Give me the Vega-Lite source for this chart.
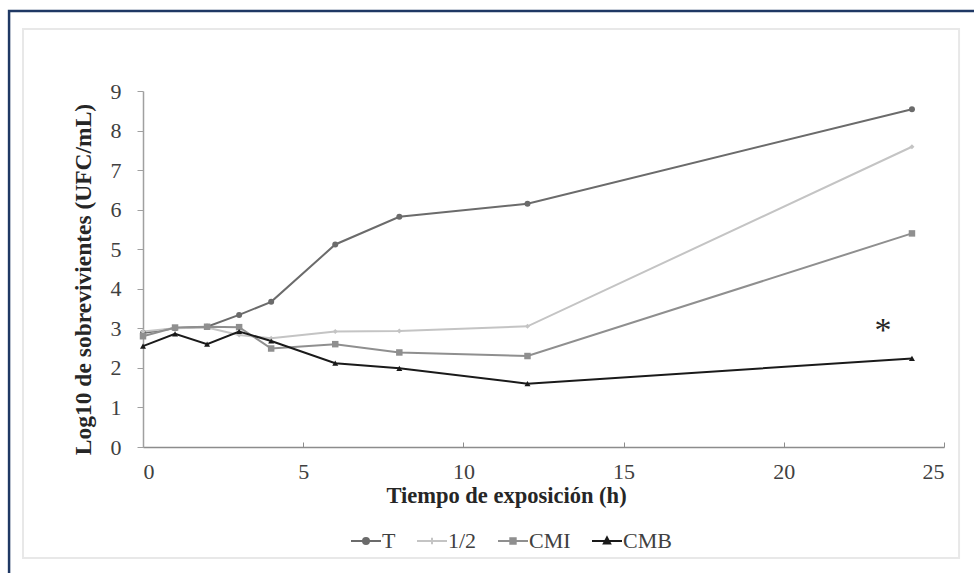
{
  "$schema": "https://vega.github.io/schema/vega-lite/v6.json",
  "width": 801,
  "height": 356,
  "autosize": "none",
  "padding": {"left": 143, "top": 91, "right": 30, "bottom": 126},
  "background": "white",
  "config": {
    "view": {"stroke": null},
    "font": "Liberation Serif",
    "axis": {"labelFont": "Liberation Serif", "titleFont": "Liberation Serif", "grid": false, "labelOverlap": false}
  },
  "datasets": {
    "series": [
      {"t": 0, "serie": "T", "v": 2.88}, {"t": 1, "serie": "T", "v": 3.0}, {"t": 2, "serie": "T", "v": 3.04}, {"t": 3, "serie": "T", "v": 3.34}, {"t": 4, "serie": "T", "v": 3.67}, {"t": 6, "serie": "T", "v": 5.12}, {"t": 8, "serie": "T", "v": 5.82}, {"t": 12, "serie": "T", "v": 6.15}, {"t": 24, "serie": "T", "v": 8.54},
      {"t": 0, "serie": "1/2", "v": 2.92}, {"t": 1, "serie": "1/2", "v": 3.0}, {"t": 2, "serie": "1/2", "v": 3.02}, {"t": 3, "serie": "1/2", "v": 2.83}, {"t": 4, "serie": "1/2", "v": 2.75}, {"t": 6, "serie": "1/2", "v": 2.92}, {"t": 8, "serie": "1/2", "v": 2.93}, {"t": 12, "serie": "1/2", "v": 3.05}, {"t": 24, "serie": "1/2", "v": 7.59},
      {"t": 0, "serie": "CMI", "v": 2.8}, {"t": 1, "serie": "CMI", "v": 3.02}, {"t": 2, "serie": "CMI", "v": 3.04}, {"t": 3, "serie": "CMI", "v": 3.03}, {"t": 4, "serie": "CMI", "v": 2.49}, {"t": 6, "serie": "CMI", "v": 2.6}, {"t": 8, "serie": "CMI", "v": 2.39}, {"t": 12, "serie": "CMI", "v": 2.3}, {"t": 24, "serie": "CMI", "v": 5.4},
      {"t": 0, "serie": "CMB", "v": 2.55}, {"t": 1, "serie": "CMB", "v": 2.86}, {"t": 2, "serie": "CMB", "v": 2.6}, {"t": 3, "serie": "CMB", "v": 2.92}, {"t": 4, "serie": "CMB", "v": 2.68}, {"t": 6, "serie": "CMB", "v": 2.12}, {"t": 8, "serie": "CMB", "v": 1.99}, {"t": 12, "serie": "CMB", "v": 1.6}, {"t": 24, "serie": "CMB", "v": 2.24}
    ],
    "frames": [
      {"t": -4.18, "t2": 27.0, "v": -3.5, "v2": 11.02, "kind": "outer"},
      {"t": -3.745, "t2": 25.47, "v": -2.806, "v2": 10.566, "kind": "inner"}
    ],
    "notes": [{"t": 23.1, "v": 3.08, "label": "*"}]
  },
  "encoding": {
    "x": {
      "field": "t", "type": "quantitative",
      "scale": {"domain": [0, 25], "nice": false, "zero": false},
      "axis": {
        "title": "Tiempo de exposición (h)",
        "values": [0, 5, 10, 15, 20, 25],
        "domainColor": "#8c8c8c", "domainWidth": 1.5,
        "tickColor": "#8c8c8c", "tickSize": -5, "tickWidth": 1,
        "labelFontSize": 22, "labelColor": "#404040", "labelPadding": 19,
        "titleFontSize": 22.5, "titleFontWeight": "bold", "titleColor": "#262626",
        "titleX": 363, "titleY": 37
      }
    },
    "y": {
      "field": "v", "type": "quantitative",
      "scale": {"domain": [0, 9], "nice": false, "zero": false},
      "axis": {
        "title": "Log10 de sobrevivientes (UFC/mL)",
        "values": [0, 1, 2, 3, 4, 5, 6, 7, 8, 9],
        "domainColor": "#a0a0a0", "domainWidth": 1.5,
        "tickColor": "#a0a0a0", "tickSize": 6,
        "labelFontSize": 22, "labelColor": "#404040", "labelPadding": 16,
        "titleFontSize": 23.5, "titleFontWeight": "bold", "titleColor": "#262626",
        "titleX": -48, "titleY": 188, "titleAngle": -90
      }
    }
  },
  "layer": [
    {
      "data": {"name": "frames"},
      "mark": {"type": "rect", "clip": false, "fillOpacity": 0},
      "encoding": {
        "x2": {"field": "t2"},
        "y2": {"field": "v2"},
        "stroke": {"field": "kind", "type": "nominal", "scale": {"domain": ["outer", "inner"], "range": ["#1f3864", "#e8e8e8"]}, "legend": null},
        "strokeWidth": {"field": "kind", "type": "nominal", "scale": {"domain": ["outer", "inner"], "range": [2.5, 2]}, "legend": null}
      }
    },
    {
      "data": {"name": "series"},
      "mark": {"type": "line", "strokeWidth": 2},
      "encoding": {
        "color": {
          "field": "serie", "type": "nominal",
          "scale": {"domain": ["T", "1/2", "CMI", "CMB"], "range": ["#6b6b6b", "#c4c4c4", "#8f8f8f", "#1a1a1a"]},
          "legend": {
            "title": null, "orient": "none", "direction": "horizontal",
            "legendX": 207, "legendY": 434,
            "symbolSize": 900, "labelFontSize": 22, "labelColor": "#404040",
            "labelFont": "Liberation Serif", "labelOffset": 0, "columnPadding": 17,
            "encode": {
              "symbols": {
                "update": {
                  "shape": {"signal": "datum.value === 'T' ? 'M-1,0H1M-0.2,0A0.2,0.2 0 1,0 0.2,0A0.2,0.2 0 1,0 -0.2,0Z' : datum.value === '1/2' ? 'M-1,0H1M0,-0.22V0.22' : datum.value === 'CMI' ? 'M-1,0H1M-0.18,-0.18H0.18V0.18H-0.18Z' : 'M-1,0H1M0,-0.24L0.21,0.16L-0.21,0.16Z'"},
                  "stroke": {"scale": "color", "field": "value"},
                  "fill": {"scale": "color", "field": "value"},
                  "strokeWidth": {"value": 2},
                  "opacity": {"value": 1},
                  "fillOpacity": {"value": 1},
                  "strokeOpacity": {"value": 1}
                }
              }
            }
          }
        }
      }
    },
    {
      "data": {"name": "series"},
      "transform": [{"filter": "datum.serie === 'T'"}],
      "mark": {"type": "point", "filled": true, "opacity": 1, "shape": "circle", "size": 36, "color": "#6b6b6b"}
    },
    {
      "data": {"name": "series"},
      "transform": [{"filter": "datum.serie === '1/2'"}],
      "mark": {"type": "point", "filled": true, "opacity": 1, "shape": "diamond", "size": 25, "color": "#c4c4c4"}
    },
    {
      "data": {"name": "series"},
      "transform": [{"filter": "datum.serie === 'CMI'"}],
      "mark": {"type": "point", "filled": true, "opacity": 1, "shape": "square", "size": 42, "color": "#8f8f8f"}
    },
    {
      "data": {"name": "series"},
      "transform": [{"filter": "datum.serie === 'CMB'"}],
      "mark": {"type": "point", "filled": true, "opacity": 1, "shape": "triangle-up", "size": 36, "color": "#1a1a1a"}
    },
    {
      "data": {"name": "notes"},
      "mark": {"type": "text", "fontSize": 34, "font": "Liberation Serif", "baseline": "alphabetic", "dy": 16, "color": "#262626"},
      "encoding": {"text": {"field": "label"}}
    }
  ]
}
